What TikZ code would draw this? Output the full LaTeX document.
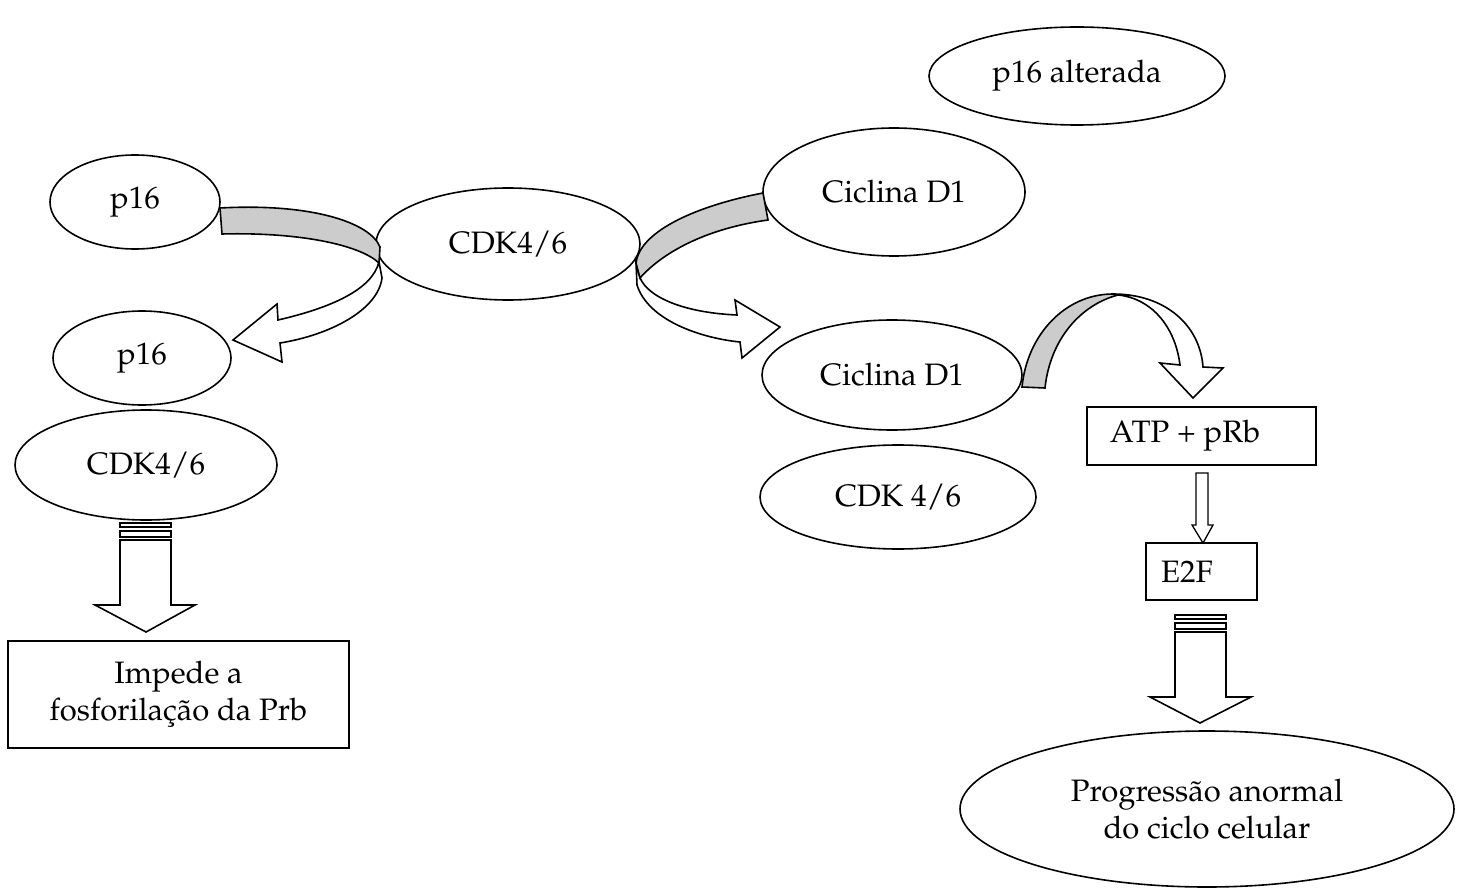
\documentclass[tikz,border=0pt]{standalone}
\usepackage[T1]{fontenc}
\usepackage{mathpazo}
\usetikzlibrary{shapes.geometric}
\definecolor{bandgray}{RGB}{204,204,204}
\begin{document}
\begin{tikzpicture}[x=1pt,y=-1pt,
  lbl/.style={font=\fontsize{31}{37}\selectfont, align=center},
  ell/.style={ellipse, draw=black, line width=1.6pt, inner sep=0pt, fill=white},
  boxn/.style={rectangle, draw=black, line width=1.6pt, inner sep=0pt, fill=white},
  band/.style={draw=black, line width=1.6pt, line join=miter, fill=bandgray},
  wband/.style={draw=black, line width=1.6pt, line join=miter, fill=white}]
\useasboundingbox (0,0) rectangle (1466,893);

% ellipses
\node[ell, minimum width=296pt, minimum height=98pt] (p16alt) at (1077,76) {};
\node[lbl] at (p16alt.center) {p16 alterada};
\node[ell, minimum width=170pt, minimum height=94pt] (p16a) at (135,202) {};
\node[lbl] at (p16a.center) {p16};
\node[ell, minimum width=264pt, minimum height=112pt] (cdkmid) at (508,244) {};
\node[lbl] at (cdkmid.center) {CDK4/6};
\node[ell, minimum width=262pt, minimum height=128pt] (cicA) at (894,192) {};
\node[lbl] at (cicA.center) {Ciclina D1};
\node[ell, minimum width=178pt, minimum height=94pt] (p16b) at (142,358) {};
\node[lbl] at (p16b.center) {p16};
\node[ell, minimum width=262pt, minimum height=110pt] (cdkb) at (146,465) {};
\node[lbl] at (cdkb.center) {CDK4/6};
\node[ell, minimum width=260pt, minimum height=110pt] (cicB) at (892,375) {};
\node[lbl] at (cicB.center) {Ciclina D1};
\node[ell, minimum width=276pt, minimum height=104pt] (cdkc) at (898,497) {};
\node[lbl] at (cdkc.center) {CDK 4/6};
\node[ell, minimum width=494pt, minimum height=156pt] (prog) at (1207,809) {};
\node[lbl] at (prog.center) {Progress\~ao anormal\\do ciclo celular};

% boxes
\node[boxn, minimum width=229pt, minimum height=58pt] (atp) at (1201.5,436) {};
\node[lbl] at (1185,436) {ATP + pRb};
\node[boxn, minimum width=111pt, minimum height=57pt] (e2f) at (1201.5,571.5) {};
\node[lbl] at (1187,571.5) {E2F};
\node[boxn, minimum width=341pt, minimum height=107pt] (imp) at (178.5,694.5) {};
\node[lbl] at (imp.center) {Impede a\\fosforila\c{c}\~ao da Prb};

% left curved arrow (p16 -> p16/CDK4/6)
\draw[wband] (379,262) -- (382,278) .. controls (378,310) and (330,335) .. (280,343)
  -- (282,362) -- (233,340) -- (277,304) -- (278,320)
  .. controls (330,308) and (372,290) .. (379,262) -- cycle;
\draw[band] (220,208) .. controls (310,203) and (370,222) .. (380,247)
  -- (379,263) .. controls (360,245) and (300,232) .. (222,234) -- cycle;

% right curved arrow (Ciclina D1 -> Ciclina D1/CDK 4/6)
\draw[wband] (636,263) -- (637,285) .. controls (648,320) and (700,338) .. (740,342)
  -- (742,358) -- (780,327) -- (735,300) -- (737,315)
  .. controls (690,313) and (650,300) .. (640,278) -- cycle;
\draw[band] (763,193) .. controls (700,205) and (640,230) .. (636,263)
  -- (640,278) .. controls (665,250) and (710,228) .. (768,220) -- cycle;

% arc arrow (Ciclina D1 -> ATP + pRb)
\draw[wband] (1113,294) .. controls (1165,294) and (1200,325) .. (1203,367)
  -- (1223,368) -- (1193,398) -- (1160,363) -- (1180,365)
  .. controls (1175,325) and (1150,298) .. (1118,295) -- cycle;
\draw[band] (1022,387) .. controls (1027,335) and (1065,294) .. (1113,294)
  -- (1118,295) .. controls (1080,305) and (1050,340) .. (1045,388) -- cycle;

% small arrow ATP -> E2F
\draw[wband, line width=1.3pt] (1196,473) -- (1196,525) -- (1192,525) -- (1203,543)
  -- (1213,525) -- (1208,525) -- (1208,473) -- cycle;

% striped arrow left
\draw[wband] (120,523) rectangle (171,527);
\draw[wband] (120,531) rectangle (171,537);
\draw[wband] (120,540) -- (120,605) -- (95,605) -- (146,632) -- (195,605)
  -- (171,605) -- (171,540) -- cycle;

% striped arrow right
\draw[wband] (1175,615) rectangle (1226,619);
\draw[wband] (1175,623) rectangle (1226,629);
\draw[wband] (1175,632) -- (1175,697) -- (1150,697) -- (1200,723) -- (1251,697)
  -- (1226,697) -- (1226,632) -- cycle;
\end{tikzpicture}
\end{document}
